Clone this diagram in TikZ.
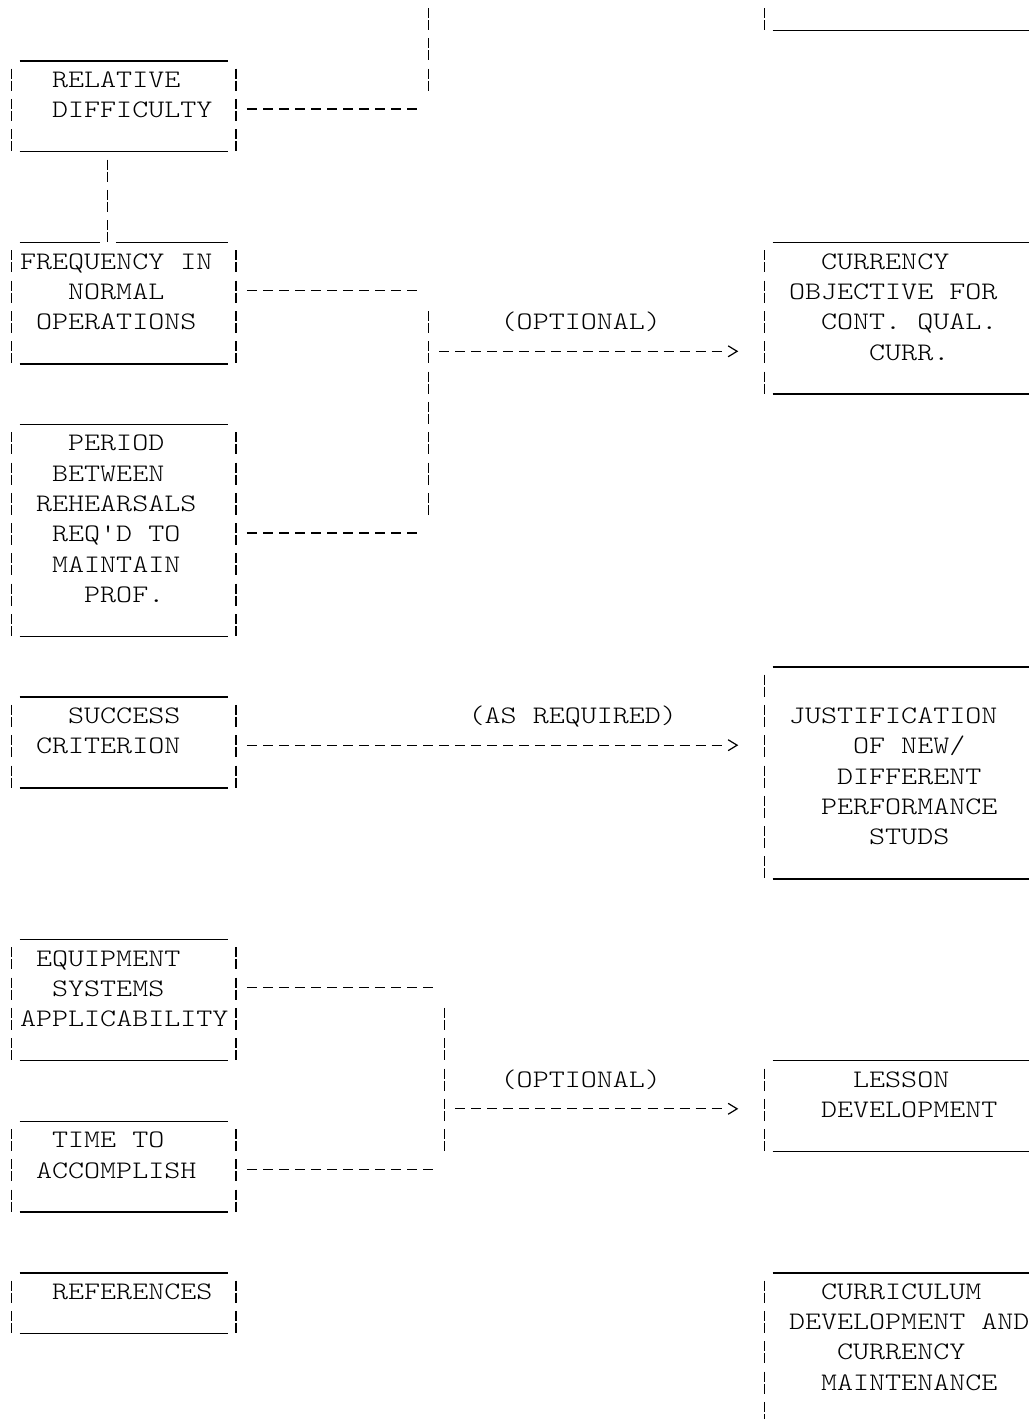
\documentclass[tikz,border=0pt]{standalone}
\usepackage{fontspec}
% Light typewriter face, widened so one character fills one grid column
\newfontfamily\asciifont[FakeStretch=1.211]{lmmonolt10-regular.otf}

\tikzset{
  brokenbar/.style={line width=0.65pt, dash pattern=on 5pt off 1pt on 5pt off 4.15pt},
  rulebar/.style={line width=0.75pt},
  dashlink/.style={line width=0.65pt, dash pattern=on 5pt off 3.01pt},
  chevtip/.style={line width=0.6pt, line join=miter},
  lbl/.style={anchor=base west, inner sep=0pt, font=\asciifont\fontsize{12.6pt}{15pt}\selectfont},
}

% grid helpers: column = character cell, row = text line
\newcommand\ulrun[3]{\draw[rulebar] ({#2},{#1+0.38}) -- ({#3+1},{#1+0.38});}
\newcommand\vbar[3]{\draw[brokenbar] ({#1+0.5},{#2-0.363}) -- ({#1+0.5},{#3+0.363});}
\newcommand\leftframe[2]{\ulrun{#1}{1}{13}\vbar{0}{#1+1}{#2}\vbar{14}{#1+1}{#2}\ulrun{#2}{1}{13}}
\newcommand\rightframe[2]{\ulrun{#1}{48}{63}\vbar{47}{#1+1}{#2}\ulrun{#2}{48}{63}}
\newcommand\chev[2]{\draw[chevtip] ({#1+0.22},{#2-0.213}) -- ({#1+0.78},{#2-0.033}) -- ({#1+0.22},{#2+0.147});}

\begin{document}
\begin{tikzpicture}
\fill[white] (0,0) rectangle (515pt,-709.5pt);
\useasboundingbox (0,0) rectangle (515pt,-709.5pt);
\clip (0,0) rectangle (515pt,-709.5pt);
\begin{scope}[shift={(1.85pt,-9.5pt)}, x=8.01pt, y=-15.15pt]

% ---------- left-hand boxes ----------
\leftframe{1}{4}
\node[lbl] (rel1) at (3,2.254) {RELATIVE};
\node[lbl] (rel2) at (3,3.254) {DIFFICULTY};

\ulrun{7}{1}{5}\ulrun{7}{7}{13}
\vbar{0}{8}{11}\vbar{14}{8}{11}\ulrun{11}{1}{13}
\node[lbl] (freq1) at (1,8.254) {FREQUENCY IN};
\node[lbl] (freq2) at (4,9.254) {NORMAL};
\node[lbl] (freq3) at (2,10.254) {OPERATIONS};

\leftframe{13}{20}
\node[lbl] (per1) at (4,14.254) {PERIOD};
\node[lbl] (per2) at (3,15.254) {BETWEEN};
\node[lbl] (per3) at (2,16.254) {REHEARSALS};
\node[lbl] (per4) at (3,17.254) {REQ'D TO};
\node[lbl] (per5) at (3,18.254) {MAINTAIN};
\node[lbl] (per6) at (5,19.254) {PROF.};

\leftframe{22}{25}
\node[lbl] (suc1) at (4,23.254) {SUCCESS};
\node[lbl] (suc2) at (2,24.254) {CRITERION};

\leftframe{30}{34}
\node[lbl] (eq1) at (2,31.254) {EQUIPMENT};
\node[lbl] (eq2) at (3,32.254) {SYSTEMS};
\node[lbl] (eq3) at (1,33.254) {APPLICABILITY};

\leftframe{36}{39}
\node[lbl] (tim1) at (3,37.254) {TIME TO};
\node[lbl] (tim2) at (2,38.254) {ACCOMPLISH};

\leftframe{41}{43}
\node[lbl] (ref1) at (3,42.254) {REFERENCES};

% ---------- right-hand boxes ----------
\vbar{47}{-2}{0}\ulrun{0}{48}{63}

\rightframe{7}{12}
\node[lbl] (cur1) at (51,8.254) {CURRENCY};
\node[lbl] (cur2) at (49,9.254) {OBJECTIVE FOR};
\node[lbl] (cur3) at (51,10.254) {CONT. QUAL.};
\node[lbl] (cur4) at (54,11.254) {CURR.};

\rightframe{21}{28}
\node[lbl] (jus1) at (49,23.254) {JUSTIFICATION};
\node[lbl] (jus2) at (53,24.254) {OF NEW/};
\node[lbl] (jus3) at (52,25.254) {DIFFERENT};
\node[lbl] (jus4) at (51,26.254) {PERFORMANCE};
\node[lbl] (jus5) at (54,27.254) {STUDS};

\rightframe{34}{37}
\node[lbl] (les1) at (53,35.254) {LESSON};
\node[lbl] (les2) at (51,36.254) {DEVELOPMENT};

\rightframe{41}{46}
\node[lbl] (cc1) at (51,42.254) {CURRICULUM};
\node[lbl] (cc2) at (49,43.254) {DEVELOPMENT AND};
\node[lbl] (cc3) at (52,44.254) {CURRENCY};
\node[lbl] (cc4) at (51,45.254) {MAINTENANCE};

% ---------- connector end points ----------
\coordinate (relOut)   at (15.187,2.967);
\coordinate (relJoin)  at (25.813,2.967);
\coordinate (busTopA)  at (26.5,-2.363);
\coordinate (busTopB)  at (26.5,2.363);
\coordinate (relDown)  at (6.5,4.637);
\coordinate (freqUp)   at (6.5,7.363);
\coordinate (freqOut)  at (15.187,8.967);
\coordinate (freqJoin) at (25.813,8.967);
\coordinate (busA1)    at (26.5,9.637);
\coordinate (busA2)    at (26.5,16.363);
\coordinate (perOut)   at (15.187,16.967);
\coordinate (perJoin)  at (25.813,16.967);
\coordinate (optAOut)  at (27.187,10.967);
\coordinate (optAEnd)  at (44.813,10.967);
\coordinate (sucOut)   at (15.187,23.967);
\coordinate (sucEnd)   at (44.813,23.967);
\coordinate (eqOut)    at (15.187,31.967);
\coordinate (eqJoin)   at (26.813,31.967);
\coordinate (timOut)   at (15.187,37.967);
\coordinate (timJoin)  at (26.813,37.967);
\coordinate (busB1)    at (27.5,32.637);
\coordinate (busB2)    at (27.5,37.363);
\coordinate (optBOut)  at (28.187,35.967);
\coordinate (optBEnd)  at (44.813,35.967);

% ---------- connectors ----------
\draw[brokenbar] (busTopA) -- (busTopB);
\draw[dashlink] (relOut) -- (relJoin);
\draw[brokenbar] (relDown) -- (freqUp);
\draw[dashlink] (freqOut) -- (freqJoin);
\draw[brokenbar] (busA1) -- (busA2);
\draw[dashlink] (perOut) -- (perJoin);
\draw[dashlink] (optAOut) -- (optAEnd);
\chev{45}{11}
\node[lbl] (optA) at (31,10.254) {(OPTIONAL)};

\draw[dashlink] (sucOut) -- (sucEnd);
\chev{45}{24}
\node[lbl] (asreq) at (29,23.254) {(AS REQUIRED)};

\draw[dashlink] (eqOut) -- (eqJoin);
\draw[dashlink] (timOut) -- (timJoin);
\draw[brokenbar] (busB1) -- (busB2);
\draw[dashlink] (optBOut) -- (optBEnd);
\chev{45}{36}
\node[lbl] (optB) at (31,35.254) {(OPTIONAL)};

\end{scope}
\end{tikzpicture}
\end{document}
